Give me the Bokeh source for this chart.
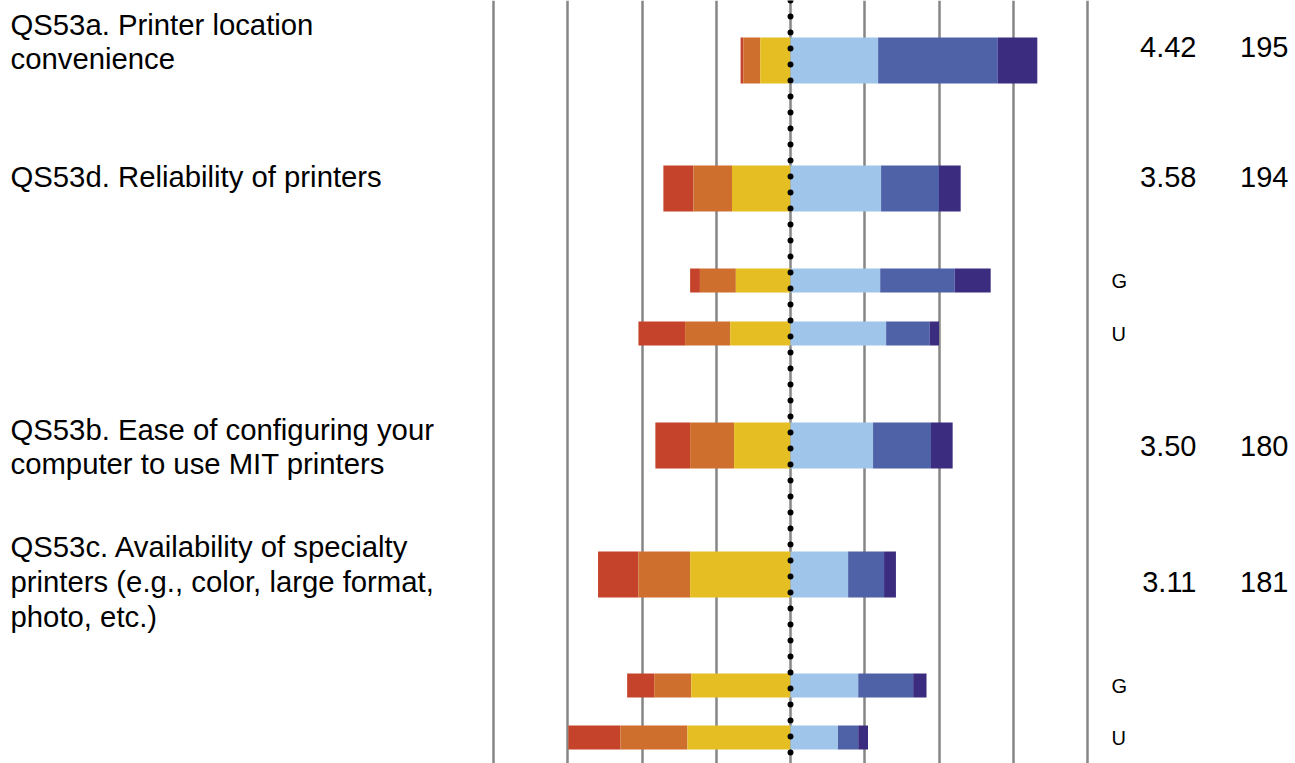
import numpy as np
from bokeh.plotting import figure
from bokeh.models import Range1d, FixedTicker, Span, ColumnDataSource
from bokeh.core.properties import value
from bokeh.embed import file_html
from bokeh.resources import INLINE

# ---------------- data ----------------
rows = ["QS53a", "QS53d", "QS53d G", "QS53d U", "QS53b", "QS53c", "QS53c G", "QS53c U"]
very_dissatisfied = [0.9, 10.1, 3.3, 15.7, 11.7, 13.6, 9.1, 17.5]
dissatisfied = [5.7, 13.0, 12.1, 15.2, 14.8, 17.4, 12.5, 22.6]
somewhat_dissatisfied = [10.2, 19.7, 18.4, 20.3, 19.0, 33.8, 33.4, 34.7]
somewhat_satisfied = [29.5, 30.5, 30.2, 32.2, 27.8, 19.4, 22.8, 16.0]
satisfied = [40.3, 19.5, 25.1, 14.7, 19.5, 12.1, 18.5, 6.8]
very_satisfied = [13.3, 7.3, 12.1, 3.1, 7.3, 4.0, 4.5, 3.3]

question_labels = [
    "QS53a. Printer location\nconvenience",
    "QS53d. Reliability of printers",
    "QS53b. Ease of configuring your\ncomputer to use MIT printers",
    "QS53c. Availability of specialty\nprinters (e.g., color, large format,\nphoto, etc.)",
]
means = ["4.42", "3.58", "3.50", "3.11"]
counts = ["195", "194", "180", "181"]
subgroup_labels = ["G", "U", "G", "U"]
grid_ticks = [-100, -75, -50, -25, 0, 25, 50, 75, 100]

# ---------------- layout (pixel-based) ----------------
W, H = 1295, 763
LEFT_PX, TOP_PX = 0, 0
ZERO_PX = 790.0
PX_PER_PCT = 74.25 / 25.0


def px_to_x(px):
    return (px - ZERO_PX) / PX_PER_PCT


row_y = [60, 188, 280, 333, 445, 574, 685, 737]
row_h = [46, 46, 24, 24, 46, 46, 24, 24]
label_y = [41, 176, 446, 581]
stat_y = [46, 176, 445, 581]
sub_y = [280, 333, 685, 737]

colors = ["#C5432A", "#CF6F2E", "#E5BE23", "#A0C5EA", "#4F62A8", "#3B2C7F"]

p = figure(
    width=W, height=H,
    x_range=Range1d(px_to_x(LEFT_PX), px_to_x(LEFT_PX + W)),
    y_range=Range1d(TOP_PX + H, TOP_PX),
    output_backend="svg", toolbar_location=None,
    min_border=0, outline_line_color=None,
    background_fill_color="white", border_fill_color="white",
)
p.xaxis.visible = False
p.yaxis.visible = False
p.ygrid.visible = False
p.xgrid.ticker = FixedTicker(ticks=grid_ticks)
p.xgrid.grid_line_color = "#868686"
p.xgrid.grid_line_width = 2.5

vd = np.array(very_dissatisfied)
d = np.array(dissatisfied)
sd = np.array(somewhat_dissatisfied)
ss = np.array(somewhat_satisfied)
s = np.array(satisfied)
vs = np.array(very_satisfied)

segments = [
    (-(sd + d + vd), -(sd + d)),
    (-(sd + d), -sd),
    (-sd, np.zeros_like(sd)),
    (np.zeros_like(ss), ss),
    (ss, ss + s),
    (ss + s, ss + s + vs),
]
for (lft, rgt), c in zip(segments, colors):
    src = ColumnDataSource(dict(y=row_y, h=row_h, left=lft, right=rgt))
    p.hbar(y="y", height="h", left="left", right="right", source=src,
           fill_color=c, line_color=None)

# dotted centre line
p.add_layout(Span(location=0, dimension="height", line_color="black",
                  line_width=6, line_dash="0 16", line_dash_offset=0,
                  line_cap="round"))

font = value("Liberation Sans")
p.text(x=[px_to_x(10)] * len(question_labels), y=label_y, text=question_labels,
       text_font=font, text_font_size="29.3px", text_color="#000000",
       text_align="left", text_baseline="middle", text_line_height=1.05)
p.text(x=[px_to_x(1196)] * len(means), y=stat_y, text=means,
       text_font=font, text_font_size="29px", text_color="#000000",
       text_align="right", text_baseline="middle")
p.text(x=[px_to_x(1288)] * len(counts), y=stat_y, text=counts,
       text_font=font, text_font_size="29px", text_color="#000000",
       text_align="right", text_baseline="middle")
p.text(x=[px_to_x(1111)] * len(subgroup_labels), y=sub_y, text=subgroup_labels,
       text_font=font, text_font_size="20px", text_color="#000000",
       text_align="left", text_baseline="middle")

open("out.html", "w").write(file_html(p, INLINE))
